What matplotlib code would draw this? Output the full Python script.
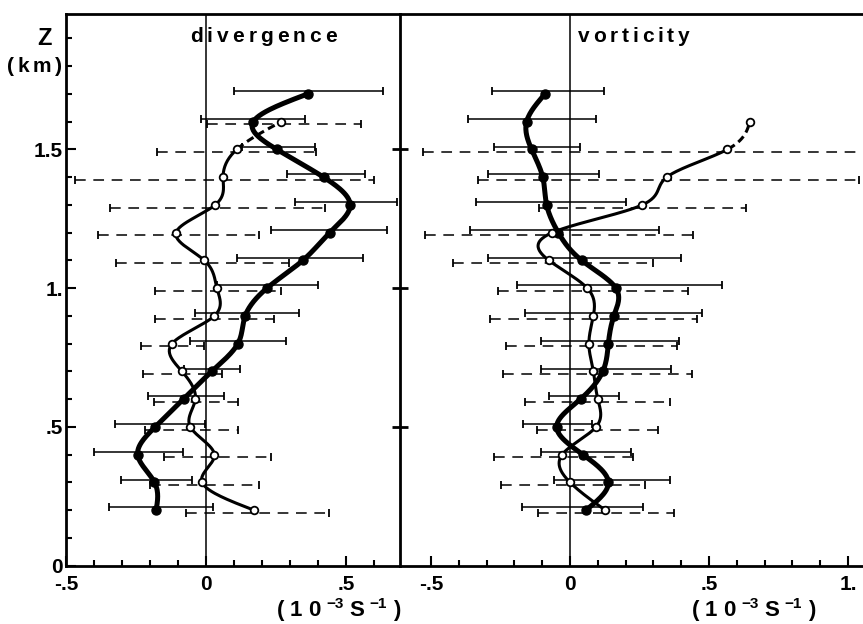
import numpy as np
import matplotlib
matplotlib.use("Agg")
import matplotlib.pyplot as plt

plt.rcParams['font.family'] = ['Liberation Sans', 'DejaVu Sans']
plt.rcParams['font.weight'] = 'bold'

W, H = 863, 624

# heights (km)
heights = [0.2, 0.3, 0.4, 0.5, 0.6, 0.7, 0.8, 0.9, 1.0, 1.1, 1.2, 1.3, 1.4, 1.5, 1.6, 1.7]
heights_open = heights[:-1]

# divergence, filled dots (thick curve, solid error bars)
div_fill = [-0.178, -0.184, -0.244, -0.181, -0.080, 0.021, 0.114, 0.140,
            0.218, 0.346, 0.442, 0.515, 0.420, 0.253, 0.169, 0.363]
div_fill_lo = [-0.348, -0.304, -0.401, -0.324, -0.208, -0.080, -0.056, -0.038,
               0.039, 0.110, 0.233, 0.319, 0.289, 0.128, -0.018, 0.101]
div_fill_hi = [0.025, -0.050, -0.082, -0.002, 0.063, 0.122, 0.286, 0.334,
               0.399, 0.560, 0.646, 0.682, 0.569, 0.390, 0.355, 0.634]

# divergence, open circles (dashed error bars)
div_open = [0.170, -0.014, 0.030, -0.056, -0.038, -0.086, -0.121, 0.030,
            0.039, -0.006, -0.107, 0.033, 0.061, 0.110, 0.269]
div_open_lo = [-0.070, -0.199, -0.151, -0.217, -0.187, -0.225, -0.231, -0.181,
               -0.181, -0.320, -0.387, -0.342, -0.467, -0.175, 0.003]
div_open_hi = [0.441, 0.191, 0.232, 0.113, 0.113, 0.057, -0.006, 0.242,
               0.268, 0.295, 0.190, 0.424, 0.601, 0.394, 0.553]

# vorticity, filled dots
vor_fill = [0.058, 0.138, 0.046, -0.048, 0.038, 0.118, 0.138, 0.158,
            0.165, 0.042, -0.042, -0.084, -0.098, -0.138, -0.156, -0.090]
vor_fill_lo = [-0.172, -0.058, -0.104, -0.170, -0.076, -0.104, -0.104, -0.162,
               -0.190, -0.296, -0.360, -0.338, -0.294, -0.273, -0.366, -0.279]
vor_fill_hi = [0.261, 0.360, 0.218, 0.080, 0.177, 0.363, 0.392, 0.474,
               0.548, 0.398, 0.321, 0.200, 0.104, 0.036, 0.092, 0.122]

# vorticity, open circles (no bar at 1.6 km)
vor_open = [0.126, 0.000, -0.028, 0.094, 0.100, 0.084, 0.068, 0.084,
            0.062, -0.076, -0.064, 0.260, 0.348, 0.566, 0.647]
vor_open_lo = [-0.114, -0.249, -0.273, -0.120, -0.162, -0.240, -0.231, -0.288,
               -0.258, -0.420, -0.520, -0.110, -0.330, -0.528, np.nan]
vor_open_hi = [0.375, 0.270, 0.228, 0.318, 0.360, 0.438, 0.386, 0.456,
               0.423, 0.297, 0.441, 0.633, 1.040, 1.660, np.nan]


def spline(y, x, num=400):
    """natural cubic spline x(y) for a smooth profile"""
    y = np.asarray(y, float)
    x = np.asarray(x, float)
    n = len(y)
    hh = np.diff(y)
    A = np.zeros((n, n))
    r = np.zeros(n)
    A[0, 0] = A[-1, -1] = 1
    for i in range(1, n - 1):
        A[i, i - 1] = hh[i - 1]
        A[i, i] = 2 * (hh[i - 1] + hh[i])
        A[i, i + 1] = hh[i]
        r[i] = 6 * ((x[i + 1] - x[i]) / hh[i] - (x[i] - x[i - 1]) / hh[i - 1])
    M = np.linalg.solve(A, r)
    yy = np.linspace(y[0], y[-1], num)
    k = np.clip(np.searchsorted(y, yy) - 1, 0, n - 2)
    d = hh[k]
    a = (y[k + 1] - yy) / d
    b = (yy - y[k]) / d
    xx = a * x[k] + b * x[k + 1] + ((a ** 3 - a) * M[k] + (b ** 3 - b) * M[k + 1]) * d ** 2 / 6
    return yy, xx


def bars(ax, h, lo, hi, dy, dashed):
    h = np.asarray(h) + dy
    lo = np.asarray(lo, float)
    hi = np.asarray(hi, float)
    ok = ~np.isnan(lo)
    ls = (0, (7, 5)) if dashed else '-'
    ax.hlines(h[ok], lo[ok], hi[ok], colors='black', linewidth=1.1, linestyles=ls, zorder=2)
    ax.plot(lo[ok], h[ok], '|', color='black', ms=5.5, mew=1.3, zorder=2)
    ax.plot(hi[ok], h[ok], '|', color='black', ms=5.5, mew=1.3, zorder=2)


def panel(ax, fill, flo, fhi, opn, olo, ohi):
    ax.axvline(0, color='black', linewidth=1.1, zorder=1)
    bars(ax, heights, flo, fhi, 0.01, False)
    bars(ax, heights_open, olo, ohi, -0.01, True)

    yy, xx = spline(heights, fill)
    ax.plot(xx, yy, color='black', linewidth=3.6, solid_capstyle='round', zorder=3)
    ax.plot(fill, heights, 'o', color='black', ms=6.5, zorder=5)

    yy, xx = spline(heights_open, opn)
    low = yy <= 1.5
    ax.plot(xx[low], yy[low], color='black', linewidth=2.2, zorder=3)
    ax.plot(xx[~low], yy[~low], color='black', linewidth=2.2, linestyle=(0, (2.5, 1.5)), zorder=3)
    ax.plot(opn, heights_open, 'o', mfc='white', mec='black', mew=1.3, ms=5.5, zorder=6)

    ax.set_ylim(0, 1.99)
    for s in ax.spines.values():
        s.set_linewidth(2.0)


def spaced(fig, parts, cx, base, width):
    """letter-spaced text; parts are (text, size, raise_px), base/cx in pixels from top-left"""
    r = fig.canvas.get_renderer()
    ws = []
    for s, size, up in parts:
        t = fig.text(0, 0, s, fontsize=size)
        ws.append(t.get_window_extent(r).width)
        t.remove()
    gap = (width - sum(ws)) / max(len(parts) - 1, 1)
    x = cx - width / 2
    for (s, size, up), w in zip(parts, ws):
        fig.text(x / W, 1 - (base - up) / H, s, fontsize=size, ha='left', va='baseline')
        x += w + gap


fig = plt.figure(figsize=(W / 100, H / 100), dpi=100)
ax1 = fig.add_axes([66 / W, 58.5 / H, 334 / W, 552 / H])
ax2 = fig.add_axes([400 / W, 58.5 / H, 463 / W, 552 / H])

panel(ax1, div_fill, div_fill_lo, div_fill_hi, div_open, div_open_lo, div_open_hi)
panel(ax2, vor_fill, vor_fill_lo, vor_fill_hi, vor_open, vor_open_lo, vor_open_hi)

ax1.set_xlim(-0.5, 0.693)
ax2.set_xlim(-0.6115, 1.054)
ax1.spines['right'].set_visible(False)
ax2.spines['right'].set_visible(False)

# left panel ticks
ax1.set_xticks([-0.5, 0, 0.5], ['-.5', '0', '.5'])
ax1.set_xticks([-0.4, -0.3, -0.2, -0.1, 0.1, 0.2, 0.3, 0.4, 0.6], minor=True)
ax1.set_yticks([0, 0.5, 1.0, 1.5], ['0', '.5', '1.', '1.5'])
ax1.set_yticks([0.1, 0.2, 0.3, 0.4, 0.6, 0.7, 0.8, 0.9, 1.1, 1.2, 1.3, 1.4, 1.6, 1.7, 1.8, 1.9], minor=True)
ax1.tick_params(which='both', direction='in', top=False, right=False, width=1.5)
ax1.tick_params(which='major', length=7, labelsize=15)
ax1.tick_params(which='minor', length=4.5)
ax1.tick_params(axis='x', which='major', pad=7)
ax1.tick_params(axis='y', which='major', pad=2)
for lbl in ax1.get_yticklabels():
    lbl.set_va('center_baseline')

# right panel ticks
ax2.set_xticks([-0.5, 0, 0.5, 1.0], ['-.5', '0', '.5', '1.'])
ax2.set_xticks([-0.4, -0.3, -0.2, -0.1, 0.1, 0.2, 0.3, 0.4, 0.6, 0.7, 0.8, 0.9], minor=True)
ax2.set_yticks([0.5, 1.0, 1.5], ['', '', ''])
ax2.tick_params(which='both', direction='in', top=False, right=False, width=1.5)
ax2.tick_params(axis='x', which='major', length=7, labelsize=15, pad=7)
ax2.tick_params(axis='x', which='minor', length=4.5)
ax2.tick_params(axis='y', which='major', direction='inout', length=12, width=2)

# titles and labels, letter-spaced like the original typesetting
spaced(fig, [(c, 15, 0) for c in 'divergence'], 263.5, 42, 147)
spaced(fig, [(c, 15, 0) for c in 'vorticity'], 633.5, 42, 111)
spaced(fig, [('Z', 17, 0)], 45, 45, 16)
spaced(fig, [(c, 15, 0) for c in '(km)'], 34.5, 72, 55)

unit = [('(', 16, 0), ('1', 16, 0), ('0', 16, 0), ('\u22123', 11, 8),
        ('S', 16, 0), ('\u22121', 11, 8), (')', 16, 0)]
spaced(fig, unit, 338.5, 616, 123)
spaced(fig, unit, 753.5, 616, 123)

fig.savefig('out.png', dpi=100)
